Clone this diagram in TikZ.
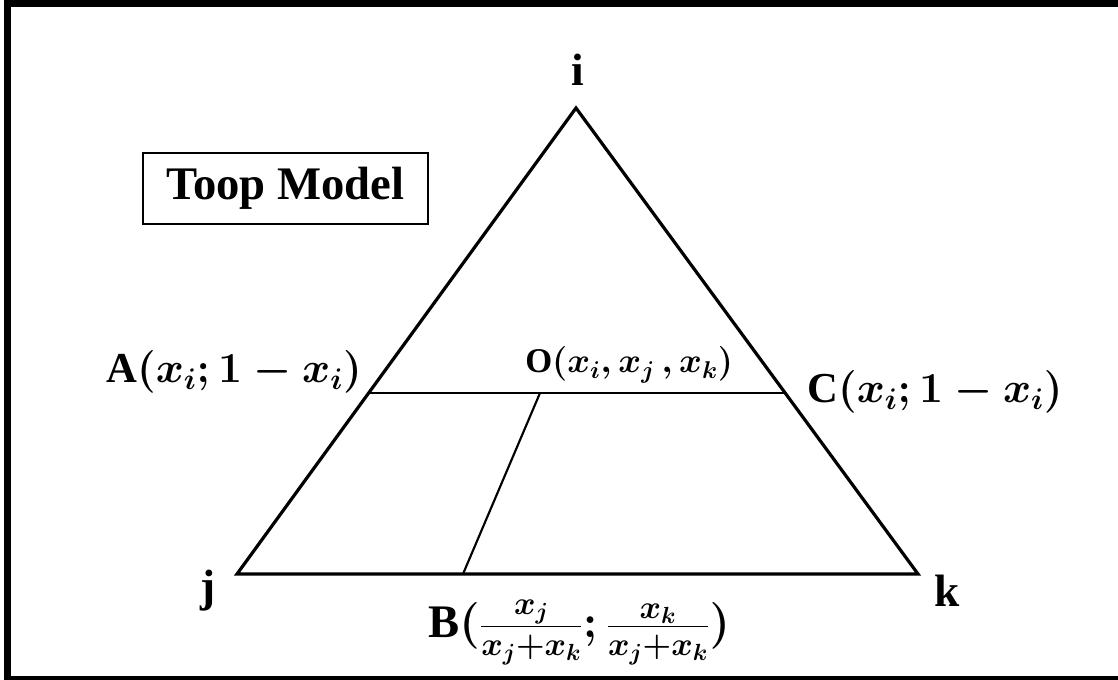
\documentclass[tikz,border=0pt]{standalone}
\usepackage{fix-cm}
\usepackage{amsmath}
\usepackage{fontspec}
\setmainfont{Liberation Serif}
\usetikzlibrary{positioning}
\tikzset{
  edgestyle/.style={black, line width=2.4pt, line join=miter},
  cutstyle/.style={black, line width=1.6pt},
  boxstyle/.style={rectangle, draw=black, line width=1.5pt, inner sep=0pt,
    minimum width=213.75pt, minimum height=53.25pt, font=\fontsize{35}{40}\selectfont\bfseries},
  vertexstyle/.style={inner sep=0pt, anchor=base, font=\fontsize{34}{40}\selectfont\bfseries},
  pointstyle/.style={inner sep=0pt, font=\fontsize{32}{38}\selectfont\bfseries\boldmath},
  smallpoint/.style={inner sep=0pt, font=\fontsize{26}{31}\selectfont\bfseries\boldmath}
}

\begin{document}
\begin{tikzpicture}[x=0.75pt, y=-0.75pt]
  % frame
  \useasboundingbox (0,0) rectangle (1118,680);
  \fill[white] (0,0) rectangle (1118,680);
  \fill[black] (4,0) rectangle (11,680);
  \fill[black] (4,0) rectangle (1118,7);
  \fill[black] (4,676) rectangle (1118,680);

  \node[boxstyle] (title) at (285.5,188.5) {Toop Model};

  % triangle corners and points
  \coordinate (vi) at (576,108);
  \coordinate (vj) at (237,574);
  \coordinate (vk) at (918,574);
  \coordinate (pa) at (369,393);
  \coordinate (pc) at (785,393);
  \coordinate (po) at (540,393);
  \coordinate (pb) at (463,574);

  \draw[edgestyle] (vi) -- (vj) -- (vk) -- cycle;
  \draw[cutstyle] (pa) -- (pc);
  \draw[cutstyle] (po) -- (pb);

  \node[vertexstyle] (li) at (578,86) {i};
  \node[vertexstyle] (lj) at (208,602) {j};
  \node[vertexstyle] (lk) at (947,607) {k};

  \node[pointstyle, anchor=base east] (la) at (362,383) {A$(x_i; 1-x_i)$};
  \node[pointstyle, anchor=base west] (lc) at (807,403) {C$(x_i; 1-x_i)$};
  \node[smallpoint, anchor=base west] (lo) at (525,373) {O$(x_i, x_j\,, x_k)$};
  \node[pointstyle, anchor=base west, font=\fontsize{35}{40}\selectfont\bfseries\boldmath] (lb) at (428,638)
    {B$(\frac{x_j}{x_j+x_k}; \frac{x_k}{x_j+x_k})$};
\end{tikzpicture}
\end{document}
